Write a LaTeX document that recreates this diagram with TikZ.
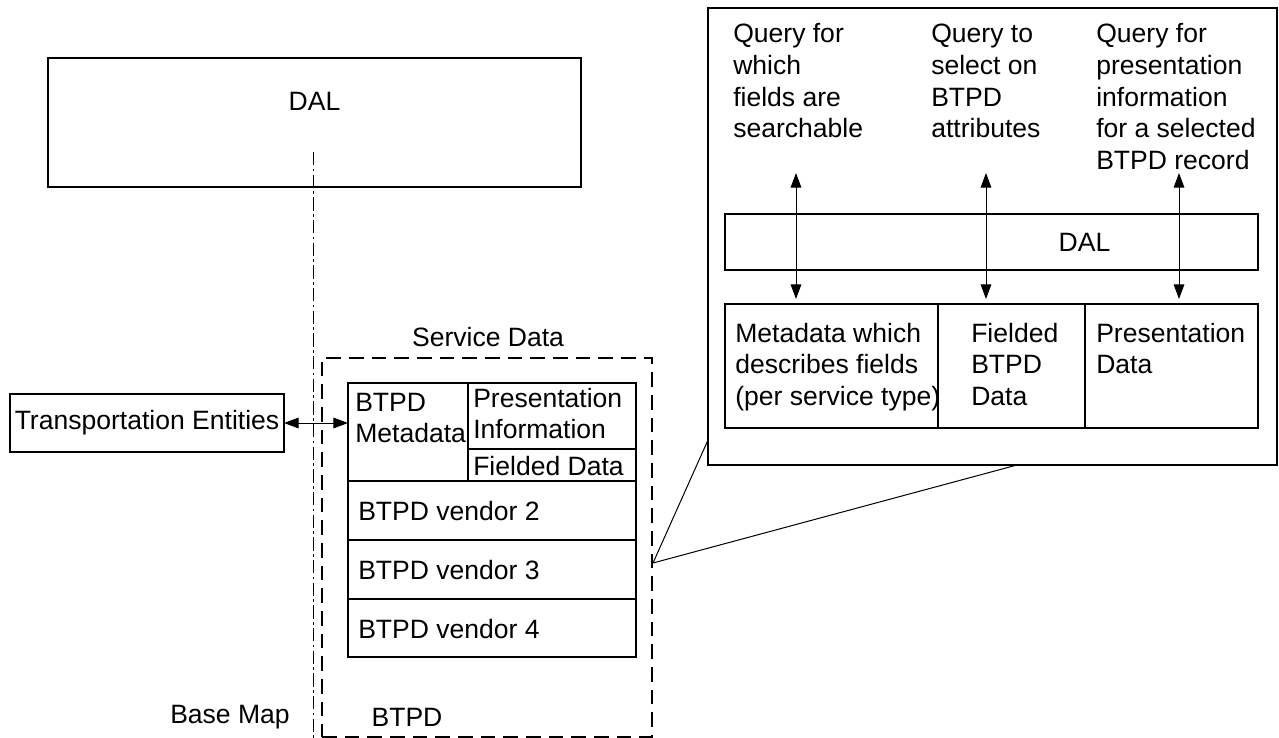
\documentclass[tikz,border=0pt]{standalone}
\usepackage{fontspec}
\setmainfont{Liberation Sans}
\usetikzlibrary{arrows.meta}
\begin{document}
\begin{tikzpicture}[x=0.75pt,y=-0.75pt,
  box/.style={draw, line width=1.5pt, inner sep=0pt, outer sep=0pt},
  dashbox/.style={draw, line width=1.5pt, dash pattern=on 11pt off 6pt, inner sep=0pt, outer sep=0pt},
  rule/.style={line width=1.5pt},
  lbl/.style={inner sep=0pt, anchor=base west, align=left, font=\fontsize{19.9}{23.7}\selectfont},
  clbl/.style={inner sep=0pt, font=\fontsize{19.9}{23.7}\selectfont},
  tip/.tip={Triangle[length=11pt,width=8pt]},
  dbl/.style={line width=0.75pt, tip-tip},
  thinline/.style={line width=0.75pt},
  axis/.style={line width=0.75pt, dash pattern=on 10pt off 2.5pt on 2pt off 2.5pt}]
\useasboundingbox (0,0) rectangle (1279,738);

% ---- left part: base map, DAL and BTPD store ----
\node[box, minimum width=399.75pt, minimum height=96.75pt] (daltop) at (314.5,122.5) {};
\node[clbl] (daltoplbl) at (314.5,101) {DAL};

\coordinate (axistop) at (313,152);
\coordinate (axisbot) at (313,738);
\draw[axis] (axistop) -- (axisbot);

\node[box, clbl, minimum width=205.5pt, minimum height=43.5pt] (te) at (147,423) {Transportation Entities};

\node[dashbox, minimum width=247.5pt, minimum height=284.25pt] (svc) at (487,547.5) {};
\node[clbl] (svclbl) at (488,337) {Service Data};

\node[box, minimum width=216pt, minimum height=205.5pt] (stack) at (492,520) {};
\coordinate (div) at (468,383);
\coordinate (r1) at (348,481);
\coordinate (r2) at (348,540);
\coordinate (r3) at (348,599);
\coordinate (pi) at (468,449);
\draw[rule] (div) -- (div |- r1);
\draw[rule] (pi) -- (pi -| stack.east);
\draw[rule] (r1) -- (r1 -| stack.east);
\draw[rule] (r2) -- (r2 -| stack.east);
\draw[rule] (r3) -- (r3 -| stack.east);

% multi-line labels are anchored at the baseline of their last line
\node[lbl] (meta) at (355,442.6) {BTPD\\Metadata};
\node[lbl] (pres) at (473,438.6) {Presentation\\Information};
\node[lbl] (fld) at (473,475) {Fielded Data};
\node[lbl] (v2) at (358,520) {BTPD vendor 2};
\node[lbl] (v3) at (358,579) {BTPD vendor 3};
\node[lbl] (v4) at (358,638) {BTPD vendor 4};

\node[clbl] (basemap) at (230,717) {Base Map};
\node[clbl] (btpd) at (407,717) {BTPD};

\draw[dbl] (te.east) -- (te.east -| stack.west);

% ---- right part: enlarged view of the BTPD store ----
\node[box, minimum width=426.75pt, minimum height=342.75pt] (big) at (992.5,236.5) {};

\node[box, minimum width=399.75pt, minimum height=42pt] (dalr) at (991.5,242) {};
\node[clbl] (dalrlbl) at (1084.5,242) {DAL};

\node[box, minimum width=399.75pt, minimum height=93pt] (lower) at (991.5,366) {};
\coordinate (d1) at (938,304);
\coordinate (d2) at (1085,304);
\draw[rule] (d1) -- (d1 |- lower.south);
\draw[rule] (d2) -- (d2 |- lower.south);

\node[lbl] (q1) at (733,137.8) {Query for\\which\\fields are\\searchable};
\node[lbl] (q2) at (931,137.8) {Query to\\select on\\BTPD\\attributes};
\node[lbl] (q3) at (1096,169.4) {Query for\\presentation\\information\\for a selected\\BTPD record};

\node[lbl] (m1) at (735,405.2) {Metadata which\\describes fields\\(per service type)};
\node[lbl] (m2) at (971,405.2) {Fielded\\BTPD\\Data};
\node[lbl] (m3) at (1096,373.6) {Presentation\\Data};

\coordinate (a1t) at (796,173);
\coordinate (a1b) at (796,299);
\coordinate (a2t) at (986,173);
\coordinate (a2b) at (986,299);
\coordinate (a3t) at (1179,173);
\coordinate (a3b) at (1179,299);
\draw[dbl] (a1t) -- (a1b);
\draw[dbl] (a2t) -- (a2b);
\draw[dbl] (a3t) -- (a3b);

% ---- callout from the store to its enlarged view ----
\coordinate (focus) at (653,563);
\coordinate (bigleft) at (708,440);
\coordinate (bigbottom) at (1017,465);
\draw[thinline] (focus) -- (bigleft);
\draw[thinline] (focus) -- (bigbottom);
\end{tikzpicture}
\end{document}
